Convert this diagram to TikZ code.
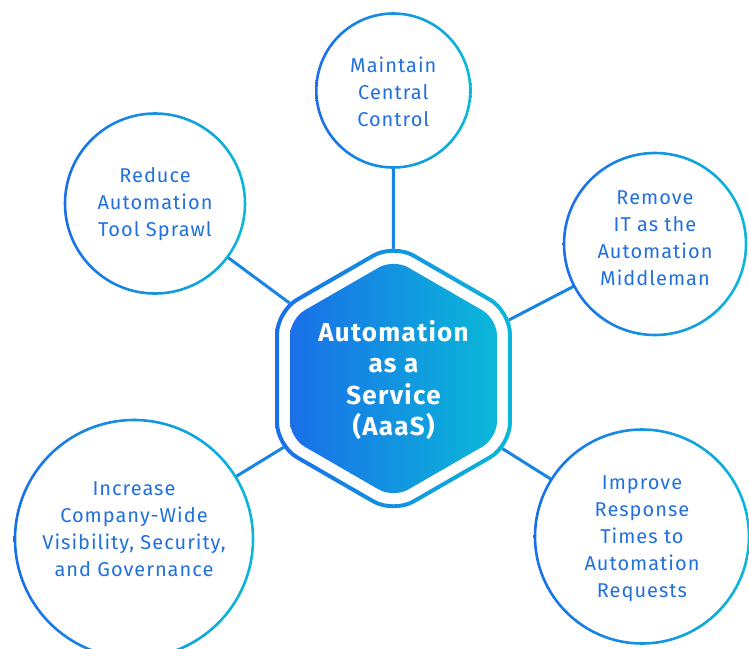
\documentclass[tikz,border=0pt]{standalone}
\usepackage{fontspec}
\setmainfont{Fira Sans}[LetterSpace=5]
\definecolor{gblue}{HTML}{1A6FE8}
\definecolor{gcyan}{HTML}{0AB8D8}
\definecolor{txtblue}{HTML}{2170DE}
\definecolor{lineblue}{HTML}{1A84E2}
\pgfdeclarelayer{bg}
\pgfsetlayers{bg,main}
\tikzset{
  disc/.style={circle, minimum size=#1, inner sep=0pt, draw=none},
  itemtext/.style={text=txtblue, font=\fontsize{20}{27}\selectfont, align=center, inner sep=0pt},
  hubtext/.style={text=white, font=\fontsize{26}{31.5}\selectfont\bfseries, align=center, inner sep=0pt},
  conn/.style={line width=3pt, draw=lineblue},
  ring/.style={left color=gblue, right color=gcyan, even odd rule},
}
\begin{document}
\begin{tikzpicture}[x=1pt,y=-1pt]
\useasboundingbox (0,0) rectangle (749,648);
% nodes
\node[hubtext] (hub) at (393.5,380) {Automation\\as a\\Service\\(AaaS)};
\node[disc=154pt] (mct) at (393.3,90.5) {};
\node[itemtext] at (393.3,91.5) {Maintain\\Central\\Control};
\node[disc=180pt] (red) at (155,203.5) {};
\node[itemtext] at (155,204) {Reduce\\Automation\\Tool Sprawl};
\node[disc=182pt] (rem) at (655,244) {};
\node[itemtext] at (655,238) {Remove\\IT as the\\Automation\\Middleman};
\node[disc=214pt] (imp) at (642,536.5) {};
\node[itemtext] at (642,538.5) {Improve\\Response\\Times to\\Automation\\Requests};
\node[disc=238pt] (inc) at (134,539) {};
\node[itemtext] at (134,529) {Increase\\Company-Wide\\Visibility, Security,\\and Governance};
\begin{pgfonlayer}{bg}
  % connectors
  \draw[conn] (mct) -- (hub.center);
  \draw[conn] (red) -- (hub.center);
  \draw[conn] (rem) -- (hub.center);
  \draw[conn] (imp) -- (hub.center);
  \draw[conn] (inc) -- (hub.center);
  % circle rings
  \foreach \n/\r in {mct/77, red/90, rem/91, imp/107, inc/119}{
    \shade[ring] (\n.center) circle ({(\r+1.3)*1pt}) (\n.center) circle ({(\r-1.3)*1pt});
  }
  % hexagon
  \begin{scope}[shift={(393.5,378.5)}]
    \fill[white, rounded corners=24.2pt] (90:136.8) -- (150:136.8) -- (210:136.8) -- (270:136.8) -- (330:136.8) -- (30:136.8) -- cycle;
    \shade[ring]
      [rounded corners=24.2pt] (90:136.8) -- (150:136.8) -- (210:136.8) -- (270:136.8) -- (330:136.8) -- (30:136.8) -- cycle
      [rounded corners=21.9pt] (90:132.2) -- (150:132.2) -- (210:132.2) -- (270:132.2) -- (330:132.2) -- (30:132.2) -- cycle;
    \shade[left color=gblue, right color=gcyan, rounded corners=16.8pt]
      (90:119.5) -- (150:119.5) -- (210:119.5) -- (270:119.5) -- (330:119.5) -- (30:119.5) -- cycle;
  \end{scope}
\end{pgfonlayer}
\end{tikzpicture}
\end{document}
